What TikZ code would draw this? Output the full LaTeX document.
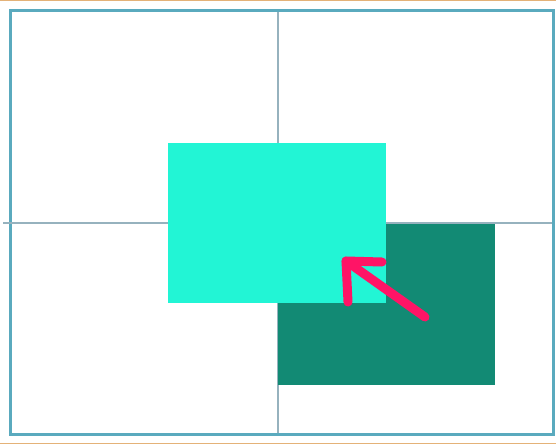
\documentclass[tikz,border=0pt]{standalone}
\usepackage{tikz}
\usetikzlibrary{arrows.meta, positioning}
\definecolor{frameblue}{RGB}{90,170,190}
\definecolor{pageorange}{RGB}{228,178,120}
\definecolor{guidegray}{RGB}{150,178,190}
\definecolor{lightaqua}{RGB}{34,245,213}
\definecolor{darkteal}{RGB}{18,138,116}
\definecolor{hotpink}{RGB}{255,20,102}

\begin{document}
\begin{tikzpicture}[x=1pt, y=-1pt,
    box/.style={inner sep=0pt, outer sep=0pt, minimum width=217pt,
                minimum height=161pt, anchor=north west},
    guide/.style={guidegray, line width=1.2pt},
    pointer/.style={hotpink, line width=9pt, line cap=round, line join=round},
]
\useasboundingbox (0,0) rectangle (556,444);
%% page edges
\draw[pageorange, line width=1.5pt] (0,0.75) -- (556,0.75);
\draw[pageorange, line width=1.5pt] (0,443.25) -- (556,443.25);
%% frame
\draw[frameblue, line width=3pt] (10,11) rectangle (553,434);
%% guides
\draw[guide] (278,12) -- (278,433);
\draw[guide] (3,223) -- (552,223);
%% boxes
\node[box, fill=darkteal] (moved) at (278,224) {};
\node[box, fill=lightaqua, minimum width=218pt, minimum height=160pt] (orig) at (168,143) {};
%% arrow
\coordinate (tail) at (425,317);
\coordinate (tip) at (346,261);
\draw[pointer] (tail) -- (tip);
\draw[pointer] ([shift={(36,1)}]tip) -- (tip) -- ++(2,41);
\end{tikzpicture}
\end{document}
